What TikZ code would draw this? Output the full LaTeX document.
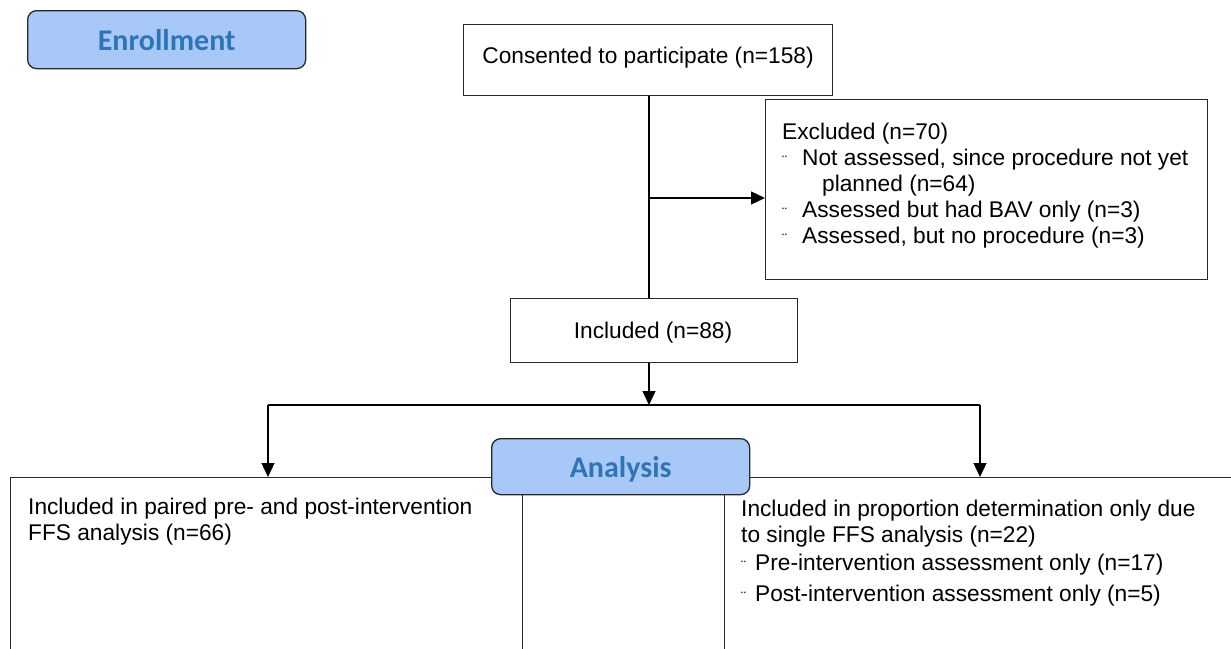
\documentclass[tikz,border=0pt]{standalone}
\usepackage{fontspec}
\setmainfont{Liberation Sans}
\newfontfamily\headfont{Carlito}
\usetikzlibrary{arrows.meta}
\definecolor{hdrfill}{RGB}{168,200,248}
\definecolor{hdrtext}{RGB}{46,117,182}
\definecolor{edge}{RGB}{40,40,40}
\newcommand{\bul}[1]{\makebox[#1][l]{\raisebox{-1pt}{\fontsize{15}{15}\selectfont ¨}}}
\begin{document}
\begin{tikzpicture}[x=1pt,y=-1pt,
 box/.style={draw=edge, line width=1.2pt, inner sep=0pt, anchor=north west},
 hdr/.style={draw=edge, line width=1.3pt, fill=hdrfill, rounded corners=9pt, inner sep=0pt, anchor=north west,
   font=\headfont\bfseries\fontsize{30}{36}\selectfont, text=hdrtext},
 txt/.style={anchor=base west, inner sep=0pt, font=\fontsize{22.7}{26}\selectfont},
 ctxt/.style={inner sep=0pt, font=\fontsize{22.7}{26}\selectfont},
 arr/.style={draw=black, line width=1.2pt, -{Triangle[length=14pt,width=13pt]}},
 ln/.style={draw=black, line width=1.2pt}]
\clip (0,0) rectangle (1231,648);
\fill[white] (0,0) rectangle (1231,648);

% boxes
\node[hdr, minimum width=278pt, minimum height=58pt] (enr) at (27,10) {Enrollment};
\node[box, minimum width=369pt, minimum height=71pt] (cons) at (463,24) {};
\node[ctxt, anchor=base] (constxt) at (648,63) {Consented to participate (n=158)};
\node[box, minimum width=442pt, minimum height=180pt] (excl) at (765,99) {};
\node[box, minimum width=287pt, minimum height=64pt] (incl) at (510,298) {};
\node[ctxt, anchor=base] (incltxt) at (653,338) {Included (n=88)};

\node[box, minimum width=512pt, minimum height=200pt] (left) at (10,477) {};
\node[box, minimum width=202pt, minimum height=200pt] (mid) at (522,477) {};
\node[box, minimum width=520pt, minimum height=200pt] (right) at (724,477) {};
\node[hdr, minimum width=258pt, minimum height=56pt, text depth=0pt] (ana) at (491,438) {Analysis};

% excluded text
\node[txt] (e1) at (782,139) {Excluded (n=70)};
\node[txt] (e2) at (782,165) {\bul{20pt}Not assessed, since procedure not yet};
\node[txt] (e3) at (822,191) {planned (n=64)};
\node[txt] (e4) at (782,217) {\bul{20pt}Assessed but had BAV only (n=3)};
\node[txt] (e5) at (782,243) {\bul{20pt}Assessed, but no procedure (n=3)};

% bottom texts
\node[txt] (l1) at (28,514) {Included in paired pre- and post-intervention};
\node[txt] (l2) at (28,540) {FFS analysis (n=66)};
\node[txt] (r1) at (741,516) {Included in proportion determination only due};
\node[txt] (r2) at (741,542) {to single FFS analysis (n=22)};
\node[txt] (r3) at (741,570) {\bul{14pt}Pre-intervention assessment only (n=17)};
\node[txt] (r4) at (741,601) {\bul{14pt}Post-intervention assessment only (n=5)};

% connectors
\coordinate (branch) at (649,198);
\coordinate (split) at (649,405);
\coordinate (splitL) at (268,405);
\coordinate (splitR) at (980,405);
\draw[ln] (cons.south -| branch) -- (incl.north -| branch);
\draw[arr] (branch) -- (branch -| excl.west);
\draw[arr] (incl.south -| split) -- (split);
\draw[ln] (splitL) -- (splitR);
\draw[arr] (splitL) -- (splitL |- left.north);
\draw[arr] (splitR) -- (splitR |- right.north);
\end{tikzpicture}
\end{document}
